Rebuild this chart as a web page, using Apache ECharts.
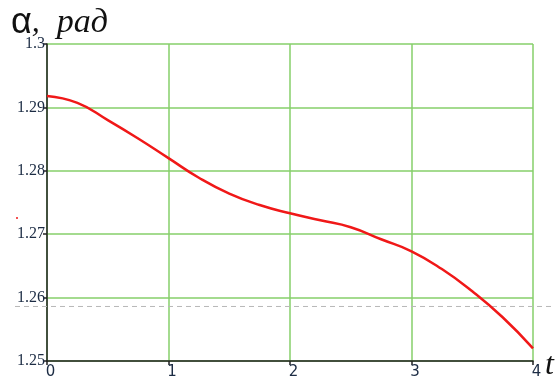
<!DOCTYPE html>
<html><head><meta charset="utf-8">
<script src="https://cdn.jsdelivr.net/npm/echarts@6/dist/echarts.min.js"></script>
<style>html,body{margin:0;padding:0;background:#fff}#c{width:555px;height:380px}</style>
</head><body><div id="c"></div>
<script>
const tValues = [0, 0.25, 0.5, 0.75, 1.0, 1.25, 1.5, 1.75, 2.0, 2.25, 2.5, 2.75, 3.0, 3.25, 3.5, 3.75, 4.0];
const alphaValues = [1.2918, 1.2907, 1.2880, 1.2851, 1.2820, 1.2789, 1.2764, 1.2746, 1.2733, 1.2722, 1.2711, 1.2692, 1.2673, 1.2645, 1.2610, 1.2569, 1.2520];
const xTicks = [0, 1, 2, 3, 4];
const yTicks = [1.25, 1.26, 1.27, 1.28, 1.29, 1.3];
const refLevel = 1.2586;
const yTitle = 'α';
const yUnitSep = ',';
const yUnit = 'рад';
const xTitle = 't';

const chart = echarts.init(document.getElementById('c'));
const green = '#86cf6a';
chart.setOption({
  animation: false,
  grid: {left: 47, right: 22, top: 44, bottom: 18},
  xAxis: {
    type: 'value', min: xTicks[0], max: xTicks[xTicks.length - 1], interval: 1,
    axisLine: {lineStyle: {color: '#222', width: 1.5}},
    axisTick: {show: true, length: 4, lineStyle: {color: '#222', width: 1.5}},
    axisLabel: {margin: 4, color: '#1c2c44', fontFamily: 'DejaVu Sans', fontSize: 15,
      formatter: v => String(v), padding: [0, 0, 0, 7]},
    splitLine: {show: true, lineStyle: {color: green, width: 1.5}}
  },
  yAxis: {
    type: 'value', min: yTicks[0], max: yTicks[yTicks.length - 1], interval: 0.01,
    axisLine: {show: true, lineStyle: {color: '#222', width: 1.5}},
    axisTick: {show: true, length: 4, lineStyle: {color: '#222', width: 1.5}},
    axisLabel: {margin: 2, color: '#1c2c44', fontFamily: 'Liberation Serif', fontSize: 16,
      formatter: v => String(+(+v).toFixed(2))},
    splitLine: {show: true, lineStyle: {color: green, width: 1.5}}
  },
  series: [{
    type: 'line', smooth: true, symbol: 'none',
    data: tValues.map((t, i) => [t, alphaValues[i]]),
    lineStyle: {color: '#f01818', width: 2.5}
  }]
});
const py = chart.convertToPixel({gridIndex: 0}, [0, refLevel])[1];
chart.setOption({graphic: [
  {type: 'line', shape: {x1: 15, y1: py, x2: 555, y2: py}, z: 1,
   style: {stroke: '#b8b8b8', lineWidth: 1, lineDash: [5, 4]}},
  {type: 'text', left: 11, top: 5, style: {
    rich: {
      a: {fontFamily: 'Liberation Sans', fontSize: 36, fill: '#111'},
      b: {fontFamily: 'Liberation Serif', fontStyle: 'italic', fontSize: 32, fill: '#111'},
      c: {fontFamily: 'Liberation Serif', fontStyle: 'italic', fontSize: 34, fill: '#111', padding: [0, 0, 0, 17]}
    },
    text: '{a|' + yTitle + '}{b|' + yUnitSep + '}{c|' + yUnit + '}'
  }},
  {type: 'text', left: 545, top: 350, style: {
    text: xTitle, fontFamily: 'Liberation Serif', fontStyle: 'italic', fontSize: 32, fill: '#111'
  }},
  {type: 'circle', shape: {cx: 17, cy: 218, r: 1}, style: {fill: '#f01818'}}
]});
</script></body></html>
